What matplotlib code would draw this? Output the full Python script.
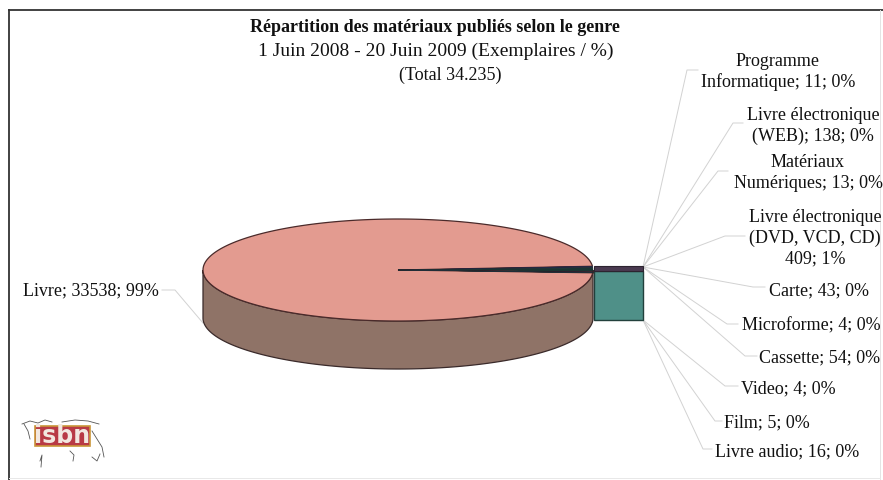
#!/usr/bin/env python3
"""Pseudo-3D pie of published materials by genre, with leader-line labels."""

import matplotlib
matplotlib.use('Agg')
import matplotlib.pyplot as plt
import matplotlib.patches as patches
import numpy as np

plt.rcParams['font.family'] = ['Liberation Serif', 'DejaVu Serif']

# ── Data ───────────────────────────────────────────────────────
genres = ['Programme\nInformatique', 'Livre électronique\n(WEB)', 'Matériaux\nNumériques',
          'Livre électronique\n(DVD, VCD, CD)', 'Carte', 'Microforme', 'Cassette',
          'Video', 'Film', 'Livre audio', 'Livre']
counts = [11, 138, 13, 409, 43, 4, 54, 4, 5, 16, 33538]
percents = [0, 0, 0, 1, 0, 0, 0, 0, 0, 0, 99]

title_lines = ['Répartition des matériaux publiés selon le genre',
               '1 Juin 2008 - 20 Juin 2009 (Exemplaires / %)',
               '(Total 34.235)']

# ── Layout, in reference pixels ────────────────────────────────
cx, cy, rx, ry, depth = 398, 271, 195, 51, 48
start_deg = 4.2
FS = 13

# label centre x, y, elbow x, y, end of elbow x, origin y
label_pos = [
    (778, 72, 687, 71, 698, 268),
    (813, 126, 733, 124, 743, 268),
    (808, 173, 718, 172, 728, 268),
    (815, 238, 725, 237, 745, 268),
    (819, 291, 753, 288, 765, 268),
    (811, 326, 727, 325, 738, 268),
    (820, 358, 745, 357, 757, 268),
    (788, 389, 725, 387, 738, 321),
    (767, 423, 715, 422, 722, 321),
    (787, 452, 703, 450, 712, 321),
]

fig = plt.figure(figsize=(8.83, 4.81), dpi=100)
ax = fig.add_axes([0, 0, 1, 1])
ax.set_xlim(0, 883)
ax.set_ylim(481, 0)
ax.axis('off')

# page frame
ax.plot([9, 883], [11, 11], color='#333333', lw=1.3)
ax.plot([9, 9], [11, 481], color='#333333', lw=1.3)
ax.plot([880, 880], [11, 481], color='#e4e4e4', lw=0.7)
ax.plot([9, 880], [479, 479], color='#e8e8e8', lw=0.7)

# ── Pie ────────────────────────────────────────────────────────
fracs = np.array(counts) / sum(counts)
small_deg = fracs[:-1].sum() * 360
a0 = np.radians(start_deg)
a1 = np.radians(start_deg - small_deg)

# big slice outer wall
t = np.linspace(np.pi, 0, 200)
xs = cx + rx * np.cos(t)
ys = cy + ry * np.sin(t)
wall = np.column_stack([np.r_[xs, xs[::-1]], np.r_[ys, ys[::-1] + depth]])
ax.add_patch(patches.Polygon(wall, closed=True, fc='#8f7367', ec='#3a2a2a', lw=0.9, zorder=2))

# pulled-out block of the small slices
ax.add_patch(patches.Rectangle((594, 272), 49, 49, fc='#4f9088', ec='#22403c', lw=1.0, zorder=2))
ax.add_patch(patches.Rectangle((594, 267), 49, 5, fc='#4a3a50', ec='#2c2430', lw=0.8, zorder=3))

# top face
t = np.linspace(a0, a1 + 2 * np.pi, 300)
top = np.column_stack([np.r_[cx, cx + rx * np.cos(t)], np.r_[cy, cy - ry * np.sin(t)]])
ax.add_patch(patches.Polygon(top, closed=True, fc='#e39b90', ec='#4a2a2a', lw=0.9, zorder=4))

# small slices on top face, one sliver per genre
edges = np.radians(start_deg - np.r_[0, np.cumsum(fracs[:-1])] * 360)
sliver_cols = ['#3a1f2c', '#1f2a48', '#2c2438', '#1a3432', '#4a2430', '#222222',
               '#2e2038', '#222222', '#222222', '#20303c']
for k, col in enumerate(sliver_cols):
    tt = np.linspace(edges[k], edges[k + 1], 5)
    pts = np.column_stack([np.r_[cx, cx + rx * np.cos(tt)], np.r_[cy, cy - ry * np.sin(tt)]])
    ax.add_patch(patches.Polygon(pts, closed=True, fc=col, ec=col, lw=0.3, zorder=5))

# ── Labels and leaders ─────────────────────────────────────────
for name, n, pct, (lx, ly, ex, ey, ee, oy) in zip(genres, counts, percents, label_pos):
    ax.plot([643, ex, ee], [oy, ey, ey], color='#d2d2d2', lw=0.7, zorder=1)
    # the DVD label wraps before its count and shows no semicolon
    sep = '\n' if n == 409 else '; '
    ax.text(lx, ly, f'{name}{sep}{n}; {pct}%', ha='center', va='center', fontsize=FS,
            color='#111111', linespacing=1.28)

ax.text(91, 291, f'{genres[-1]}; {counts[-1]}; {percents[-1]}%', ha='center', va='center',
        fontsize=FS, color='#111111')
ax.plot([203, 175, 162], [324, 291, 291], color='#d2d2d2', lw=0.7, zorder=1)

# ── Title ──────────────────────────────────────────────────────
ax.text(435, 28, title_lines[0], ha='center', va='center', fontsize=FS, fontweight='bold', color='#111111')
ax.text(436, 51, title_lines[1], ha='center', va='center', fontsize=14, color='#111111')
ax.text(450, 75, title_lines[2], ha='center', va='center', fontsize=FS, color='#111111')

# ── Logo ───────────────────────────────────────────────────────
map_lines = [
    ([22, 30, 38, 45, 52], [425, 422, 424, 421, 423]),
    ([62, 75, 88, 99], [423, 421, 422, 425]),
    ([24, 28, 30], [425, 432, 440]),
    ([92, 97, 102, 104], [432, 440, 448, 458]),
    ([40, 42, 41], [462, 456, 468]),
    ([70, 74, 73], [452, 456, 462]),
    ([92, 97, 100], [458, 462, 455]),
]
for mx, my in map_lines:
    ax.plot(mx, my, color='#555555', lw=0.6, zorder=1)
ax.add_patch(patches.Rectangle((35, 427), 55, 20, fc='#b83a45', ec='#c9963a', lw=1.2, zorder=2))
ax.text(62.5, 436.5, 'isbn', ha='center', va='center', fontsize=17, fontweight='bold',
        family=['DejaVu Sans'], color='#f2e8e0', zorder=3)

fig.savefig('out.png', dpi=100, facecolor='white')
plt.close()
